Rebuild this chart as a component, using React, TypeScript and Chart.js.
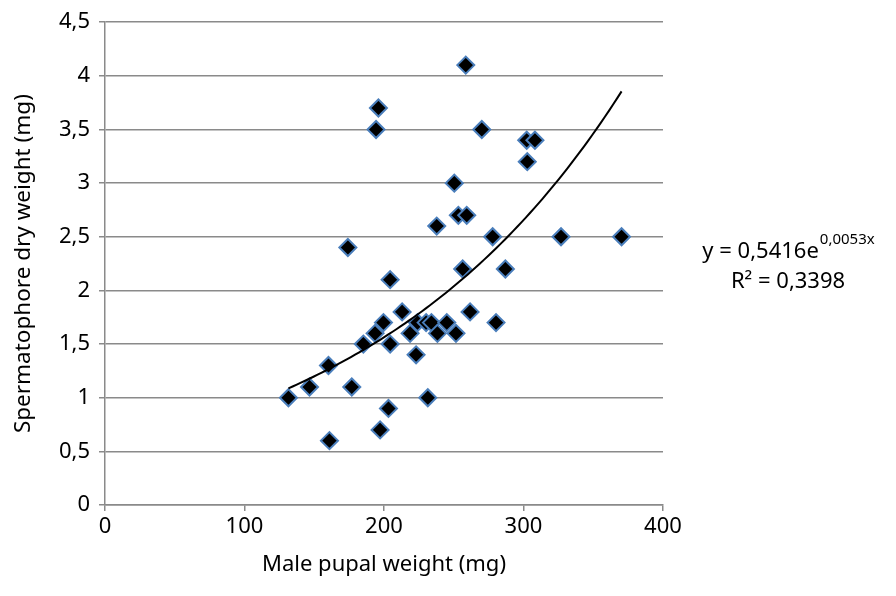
import React, { useEffect, useRef } from "react";
import { Chart, registerables } from "chart.js";

Chart.register(...registerables);

// Male pupal weight (mg)
const pupalWeight = [
  131.5, 146.6, 160.2, 160.9, 174.1, 176.9, 185.2, 193.6, 194.3, 196.0,
  197.2, 199.6, 203.2, 204.4, 204.4, 213.0, 218.7, 223.0, 224.0, 230.2,
  231.4, 234.0, 237.8, 238.3, 245.0, 250.4, 251.6, 253.3, 256.4, 258.6,
  259.3, 261.7, 270.1, 277.9, 280.3, 287.0, 302.3, 302.7, 308.2, 326.9,
  370.3,
];
// Spermatophore dry weight (mg)
const spermWeight = [
  1.0, 1.1, 1.3, 0.6, 2.4, 1.1, 1.5, 1.6, 3.5, 3.7,
  0.7, 1.7, 0.9, 2.1, 1.5, 1.8, 1.6, 1.4, 1.7, 1.7,
  1.0, 1.7, 2.6, 1.6, 1.7, 3.0, 1.6, 2.7, 2.2, 4.1,
  2.7, 1.8, 3.5, 2.5, 1.7, 2.2, 3.4, 3.2, 3.4, 2.5,
  2.5,
];

// Exponential trendline y = a * e^(b x)
const trendA = 0.5416;
const trendB = 0.0053;
const trendSteps = 80;
const equationMain = "y = 0,5416e";
const equationExp = "0,0053x";
const rSquaredText = "R² = 0,3398";

const xTitle = "Male pupal weight (mg)";
const yTitle = "Spermatophore dry weight (mg)";

const FONT = "'Noto Sans', sans-serif";

export default function App() {
  const canvasRef = useRef<HTMLCanvasElement | null>(null);

  useEffect(() => {
    const canvas = canvasRef.current;
    if (!canvas) return;

    const scatterData = pupalWeight.map((x, i) => ({ x, y: spermWeight[i] }));
    const xMin = Math.min(...pupalWeight);
    const xMax = Math.max(...pupalWeight);
    const trendData: { x: number; y: number }[] = [];
    for (let i = 0; i <= trendSteps; i++) {
      const x = xMin + ((xMax - xMin) * i) / trendSteps;
      trendData.push({ x, y: trendA * Math.exp(trendB * x) });
    }

    const equationPlugin = {
      id: "equation",
      afterDraw(chart: any) {
        const ctx = chart.ctx as CanvasRenderingContext2D;
        ctx.save();
        ctx.fillStyle = "#000";
        ctx.textBaseline = "alphabetic";
        ctx.textAlign = "left";
        const cx = 788;
        ctx.font = `22px ${FONT}`;
        const wMain = ctx.measureText(equationMain).width;
        ctx.font = `15px ${FONT}`;
        const wExp = ctx.measureText(equationExp).width;
        const startX = cx - (wMain + wExp) / 2;
        ctx.font = `22px ${FONT}`;
        ctx.fillText(equationMain, startX, 258);
        ctx.font = `15px ${FONT}`;
        ctx.fillText(equationExp, startX + wMain + 1, 244);
        ctx.font = `22px ${FONT}`;
        ctx.textAlign = "center";
        ctx.fillText(rSquaredText, cx, 288);
        ctx.restore();
      },
    };

    const chart = new Chart(canvas, {
      type: "scatter",
      data: {
        datasets: [
          {
            label: "trend",
            type: "line",
            data: trendData,
            borderColor: "#000000",
            borderWidth: 2,
            pointRadius: 0,
            fill: false,
            tension: 0,
            order: 0,
          } as any,
          {
            label: "data",
            data: scatterData,
            pointStyle: "rectRot",
            pointRadius: 8.5,
            pointBackgroundColor: "#000000",
            pointBorderColor: "#4a7ebb",
            pointBorderWidth: 2,
            order: 1,
          },
        ],
      },
      options: {
        responsive: false,
        animation: false,
        events: [],
        layout: { padding: { left: 0, top: 18, right: 233, bottom: 0 } },
        plugins: {
          legend: { display: false },
          tooltip: { enabled: false },
        },
        scales: {
          x: {
            type: "linear",
            min: 0,
            max: 400,
            ticks: {
              stepSize: 100,
              color: "#000",
              font: { family: FONT, size: 22 },
              padding: 3,
              maxRotation: 0,
            },
            grid: {
              drawOnChartArea: false,
              drawTicks: true,
              tickLength: 6,
              color: "#8a8a8a",
              lineWidth: 1.5,
            },
            border: { display: true, color: "#8a8a8a", width: 1.5 },
            title: {
              display: true,
              text: xTitle,
              color: "#000",
              font: { family: FONT, size: 22 },
              padding: { top: 18, bottom: 18 },
            },
            afterFit(scale: any) {
              scale.height = 91;
            },
          },
          y: {
            type: "linear",
            min: 0,
            max: 4.5,
            ticks: {
              stepSize: 0.5,
              color: "#000",
              font: { family: FONT, size: 22 },
              padding: 9,
              callback: (v: any) => String(v).replace(".", ","),
            },
            grid: {
              drawOnChartArea: true,
              drawTicks: true,
              tickLength: 6,
              color: "#8a8a8a",
              lineWidth: 1.5,
            },
            border: { display: true, color: "#8a8a8a", width: 1.5 },
            title: {
              display: true,
              text: yTitle,
              color: "#000",
              font: { family: FONT, size: 22.5 },
              padding: { top: 10, bottom: 10 },
            },
            afterFit(scale: any) {
              scale.width = 105;
            },
          },
        },
      },
      plugins: [equationPlugin],
    });

    return () => chart.destroy();
  }, []);

  return (
    <div style={{ position: "fixed", left: 0, top: 0, width: 896, height: 596, background: "#fff" }}>
      <canvas ref={canvasRef} width={896} height={596} />
    </div>
  );
}
